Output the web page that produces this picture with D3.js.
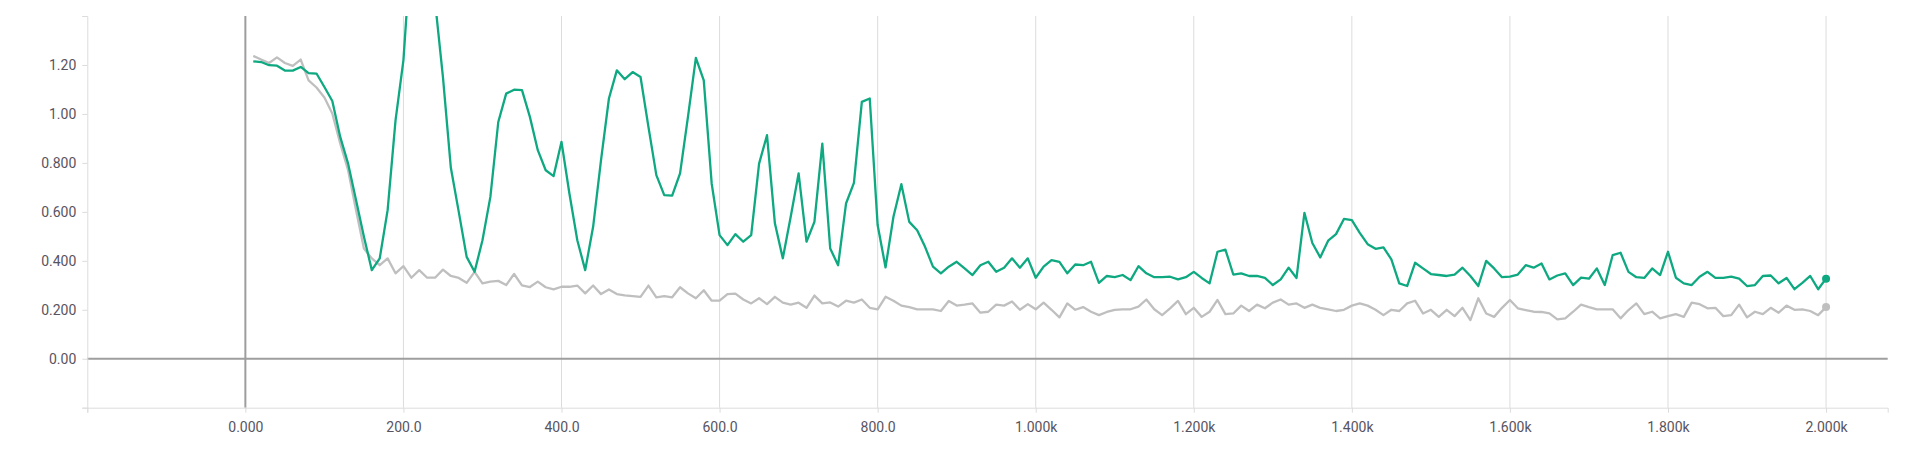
<!DOCTYPE html>
<html>
<head>
<meta charset="utf-8">
<script src="https://cdn.jsdelivr.net/npm/d3@7"></script>
<style>
  html, body { margin: 0; padding: 0; background: #fff; }
  svg { display: block; }
  .tick text { font-family: Roboto, "Noto Sans", sans-serif; font-size: 14px; fill: #58545f; }
</style>
</head>
<body>
<svg id="chart" width="1919" height="453"></svg>
<script>
const steps = [10,20,30,40,50,60,70,80,90,100,110,120,130,140,150,160,170,180,190,200,
210,220,230,240,250,260,270,280,290,300,310,320,330,340,350,360,370,380,390,400,
410,420,430,440,450,460,470,480,490,500,510,520,530,540,550,560,570,580,590,600,
610,620,630,640,650,660,670,680,690,700,710,720,730,740,750,760,770,780,790,800,
810,820,830,840,850,860,870,880,890,900,910,920,930,940,950,960,970,980,990,1000,
1010,1020,1030,1040,1050,1060,1070,1080,1090,1100,1110,1120,1130,1140,1150,1160,1170,1180,1190,1200,
1210,1220,1230,1240,1250,1260,1270,1280,1290,1300,1310,1320,1330,1340,1350,1360,1370,1380,1390,1400,
1410,1420,1430,1440,1450,1460,1470,1480,1490,1500,1510,1520,1530,1540,1550,1560,1570,1580,1590,1600,
1610,1620,1630,1640,1650,1660,1670,1680,1690,1700,1710,1720,1730,1740,1750,1760,1770,1780,1790,1800,
1810,1820,1830,1840,1850,1860,1870,1880,1890,1900,1910,1920,1930,1940,1950,1960,1970,1980,1990,2000];

const seriesGreen = [1.215,1.212,1.199,1.197,1.177,1.177,1.192,1.167,1.165,1.110,
1.053,0.906,0.797,0.648,0.498,0.362,0.410,0.607,0.974,1.220,
1.700,1.880,1.750,1.460,1.150,0.780,0.600,0.416,0.355,0.484,
0.661,0.967,1.083,1.099,1.097,0.988,0.852,0.770,0.746,0.886,
0.675,0.484,0.362,0.539,0.811,1.063,1.178,1.142,1.171,1.151,
0.947,0.750,0.668,0.666,0.757,0.988,1.229,1.137,0.716,0.505,
0.464,0.509,0.478,0.505,0.797,0.913,0.553,0.410,0.580,0.757,
0.478,0.559,0.879,0.450,0.382,0.634,0.718,1.049,1.063,0.546,
0.373,0.580,0.713,0.559,0.525,0.457,0.376,0.349,0.376,0.396,
0.369,0.342,0.382,0.396,0.355,0.372,0.410,0.372,0.410,0.331,
0.376,0.403,0.396,0.349,0.385,0.382,0.396,0.310,0.338,0.333,
0.342,0.321,0.378,0.349,0.333,0.333,0.335,0.324,0.333,0.355,
0.330,0.308,0.437,0.446,0.344,0.349,0.338,0.338,0.330,0.301,
0.324,0.372,0.330,0.596,0.473,0.414,0.482,0.509,0.571,0.566,
0.514,0.468,0.449,0.455,0.406,0.308,0.297,0.392,0.369,0.346,
0.342,0.338,0.344,0.372,0.338,0.297,0.400,0.369,0.333,0.335,
0.344,0.382,0.372,0.389,0.324,0.340,0.349,0.301,0.331,0.327,
0.369,0.301,0.423,0.433,0.355,0.333,0.330,0.369,0.342,0.437,
0.331,0.308,0.301,0.335,0.355,0.330,0.330,0.335,0.327,0.297,
0.301,0.338,0.340,0.308,0.330,0.284,0.310,0.338,0.284,0.327];

const seriesGray = [1.237,1.222,1.208,1.231,1.208,1.196,1.222,1.137,1.108,1.067,
1.002,0.879,0.770,0.607,0.450,0.410,0.382,0.410,0.349,0.378,
0.331,0.362,0.331,0.331,0.364,0.338,0.330,0.310,0.355,0.308,
0.315,0.318,0.301,0.346,0.300,0.293,0.315,0.292,0.283,0.294,
0.294,0.299,0.267,0.299,0.264,0.283,0.264,0.259,0.256,0.253,
0.299,0.251,0.256,0.251,0.292,0.267,0.247,0.280,0.237,0.237,
0.264,0.266,0.242,0.226,0.247,0.223,0.253,0.229,0.221,0.229,
0.208,0.258,0.226,0.230,0.213,0.237,0.229,0.242,0.208,0.202,
0.253,0.237,0.217,0.211,0.202,0.202,0.202,0.195,0.236,0.217,
0.221,0.226,0.188,0.192,0.221,0.217,0.234,0.200,0.223,0.202,
0.229,0.200,0.169,0.226,0.200,0.211,0.192,0.178,0.191,0.200,
0.202,0.202,0.213,0.242,0.202,0.178,0.206,0.236,0.182,0.208,
0.171,0.192,0.240,0.182,0.185,0.217,0.195,0.221,0.206,0.229,
0.242,0.221,0.226,0.208,0.221,0.208,0.202,0.195,0.200,0.217,
0.226,0.217,0.200,0.178,0.200,0.195,0.226,0.237,0.185,0.200,
0.171,0.200,0.174,0.208,0.158,0.247,0.185,0.171,0.208,0.240,
0.206,0.199,0.192,0.191,0.185,0.161,0.165,0.192,0.221,0.211,
0.202,0.202,0.202,0.165,0.199,0.226,0.182,0.192,0.165,0.174,
0.182,0.171,0.229,0.223,0.206,0.208,0.174,0.178,0.221,0.169,
0.192,0.182,0.208,0.188,0.217,0.200,0.202,0.195,0.178,0.211];

const xTickValues = [-200,0,200,400,600,800,1000,1200,1400,1600,1800,2000];
const xTickLabels = ["","0.000","200.0","400.0","600.0","800.0","1.000k","1.200k","1.400k","1.600k","1.800k","2.000k"];
const yTickValues = [-0.2,0,0.2,0.4,0.6,0.8,1.0,1.2,1.4];
const yTickLabels = ["","0.00","0.200","0.400","0.600","0.800","1.00","1.20",""];

const svg = d3.select("#chart");
const plotLeft = 87.3, plotRight = 1887.7, plotTop = 16, plotBottom = 407.7;

const x = d3.scaleLinear().domain([-200, 2078]).range([plotLeft, plotRight]);
const y = d3.scaleLinear().domain([-0.2, 1.4]).range([plotBottom, plotTop]);

svg.append("defs").append("clipPath").attr("id", "clip")
  .append("rect").attr("x", plotLeft).attr("y", plotTop)
  .attr("width", plotRight - plotLeft).attr("height", plotBottom - plotTop);

// vertical grid lines
svg.append("g").selectAll("line")
  .data(xTickValues.filter(v => v > 0))
  .join("line")
  .attr("x1", d => x(d)).attr("x2", d => x(d))
  .attr("y1", plotTop).attr("y2", plotBottom)
  .attr("stroke", "#dcdcdc").attr("stroke-width", 1);

// zero lines
svg.append("line").attr("x1", x(0)).attr("x2", x(0)).attr("y1", plotTop).attr("y2", plotBottom)
  .attr("stroke", "#9e9e9e").attr("stroke-width", 2);
svg.append("line").attr("x1", plotLeft).attr("x2", plotRight).attr("y1", y(0)).attr("y2", y(0))
  .attr("stroke", "#9e9e9e").attr("stroke-width", 2);

// axes
const xAxis = d3.axisBottom(x).tickValues(xTickValues)
  .tickFormat((d, i) => xTickLabels[i]).tickSize(5).tickPadding(9);
const gx = svg.append("g").attr("transform", `translate(0,${plotBottom})`).call(xAxis);
gx.select(".domain").attr("stroke", "#dcdcdc");
gx.selectAll(".tick line").attr("stroke", "#dcdcdc");

const yAxis = d3.axisLeft(y).tickValues(yTickValues)
  .tickFormat((d, i) => yTickLabels[i]).tickSize(5).tickPadding(6);
const gy = svg.append("g").attr("transform", `translate(${plotLeft},0)`).call(yAxis);
gy.select(".domain").attr("stroke", "#dcdcdc");
gy.selectAll(".tick line").attr("stroke", "#dcdcdc");
svg.selectAll(".tick text").attr("fill", "#58545f");

// lines
const line = d3.line().x((d, i) => x(steps[i])).y(d => y(d));
const plot = svg.append("g").attr("clip-path", "url(#clip)");
plot.append("path").datum(seriesGray).attr("d", line)
  .attr("fill", "none").attr("stroke", "#bfbfbf").attr("stroke-width", 2.3).attr("stroke-linejoin", "round");
plot.append("path").datum(seriesGreen).attr("d", line)
  .attr("fill", "none").attr("stroke", "#0ea881").attr("stroke-width", 2.3).attr("stroke-linejoin", "round");

// end dots
const last = steps.length - 1;
svg.append("circle").attr("cx", x(steps[last])).attr("cy", y(seriesGray[last])).attr("r", 4).attr("fill", "#bfbfbf");
svg.append("circle").attr("cx", x(steps[last])).attr("cy", y(seriesGreen[last])).attr("r", 4).attr("fill", "#0ea881");
</script>
</body>
</html>
